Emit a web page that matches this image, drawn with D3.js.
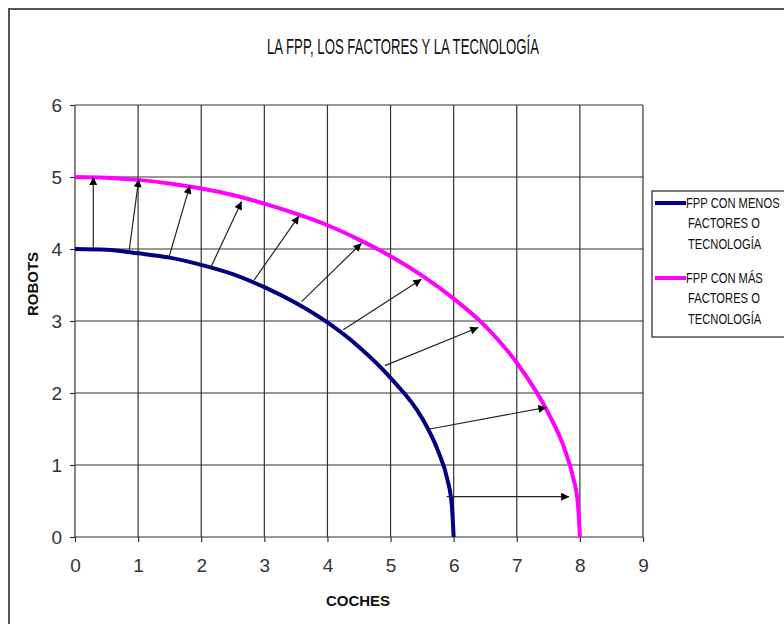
<!DOCTYPE html>
<html>
<head>
<meta charset="utf-8">
<script src="https://cdn.jsdelivr.net/npm/d3@7"></script>
<style>
  body { margin: 0; background: #fff; }
  text { font-family: "Liberation Sans", Arial, sans-serif; }
</style>
</head>
<body>
<div id="chart"></div>
<script>
// values
var xTicks = [0, 1, 2, 3, 4, 5, 6, 7, 8, 9];
var yTicks = [0, 1, 2, 3, 4, 5, 6];

// FPP con menos factores (coches, robots)
var lessX = [0, 0.5, 1, 1.5, 2, 2.5, 3, 3.5, 4, 4.5, 5, 5.5, 5.75, 5.9, 5.97, 6];
var lessY = [4, 3.99, 3.94, 3.88, 3.78, 3.65, 3.47, 3.25, 2.98, 2.64, 2.21, 1.65, 1.2, 0.8, 0.45, 0];

// FPP con más factores
var moreX = [0, 0.5, 1, 1.5, 2, 2.5, 3, 3.5, 4, 4.5, 5, 5.5, 6, 6.5, 7, 7.5, 7.75, 7.9, 7.97, 8];
var moreY = [5, 4.99, 4.96, 4.91, 4.84, 4.75, 4.63, 4.49, 4.33, 4.13, 3.9, 3.63, 3.31, 2.93, 2.42, 1.72, 1.24, 0.8, 0.45, 0];

// arrows from the inner frontier to the outer one
var arrowFromX = [0.29, 0.86, 1.49, 2.16, 2.84, 3.59, 4.25, 4.91, 5.62, 5.89];
var arrowFromY = [4.0, 3.99, 3.89, 3.76, 3.57, 3.27, 2.88, 2.38, 1.50, 0.56];
var arrowToX = [0.29, 1.01, 1.82, 2.64, 3.55, 4.54, 5.49, 6.39, 7.47, 7.83];
var arrowToY = [5.0, 4.97, 4.88, 4.66, 4.46, 4.08, 3.58, 2.91, 1.80, 0.56];

var seriesNames = [["FPP CON MENOS", "FACTORES O", "TECNOLOGÍA"],
                   ["FPP CON MÁS", "FACTORES O", "TECNOLOGÍA"]];
var seriesColors = ["#000080", "#ff00ff"];

var svgWidth = 784;
var svgHeight = 624;

var svg = d3.select("#chart")
  .append("svg")
  .attr("width", svgWidth)
  .attr("height", svgHeight);

// chart frame (runs past the right and bottom edge)
svg.append("rect")
  .attr("x", 9)
  .attr("y", 9)
  .attr("width", 820)
  .attr("height", 660)
  .attr("fill", "#fff")
  .attr("stroke", "#555")
  .attr("stroke-width", 2);

var x = d3.scaleLinear().domain([0, 9]).range([75, 643]);
var y = d3.scaleLinear().domain([0, 6]).range([537, 105]);

// title
svg.append("text")
  .attr("x", 403)
  .attr("y", 54)
  .attr("text-anchor", "middle")
  .attr("font-size", 22)
  .attr("textLength", 272)
  .attr("lengthAdjust", "spacingAndGlyphs")
  .attr("fill", "#111")
  .text("LA FPP, LOS FACTORES Y LA TECNOLOGÍA");

// gridlines
var grid = svg.append("g");
grid.selectAll("line.v")
  .data(xTicks)
  .enter()
  .append("line")
  .attr("class", "v")
  .attr("x1", d => x(d))
  .attr("x2", d => x(d))
  .attr("y1", y(0))
  .attr("y2", y(6))
  .attr("stroke", "#333")
  .attr("stroke-width", 1.2);

grid.selectAll("line.h")
  .data(yTicks)
  .enter()
  .append("line")
  .attr("class", "h")
  .attr("x1", x(0))
  .attr("x2", x(9))
  .attr("y1", d => y(d))
  .attr("y2", d => y(d))
  .attr("stroke", "#333")
  .attr("stroke-width", 1.2);

// axes
var bottomAxis = d3.axisBottom(x).tickValues(xTicks).tickFormat(d3.format("d")).tickSize(5).tickPadding(17);
var leftAxis = d3.axisLeft(y).tickValues(yTicks).tickFormat(d3.format("d")).tickSize(5).tickPadding(8);

var xAxis = svg.append("g")
  .attr("transform", `translate(0, ${y(0)})`)
  .call(bottomAxis);
var yAxis = svg.append("g")
  .attr("transform", `translate(${x(0)}, 0)`)
  .call(leftAxis);

[xAxis, yAxis].forEach(function(ax) {
  ax.select(".domain").remove();
  ax.selectAll(".tick line").attr("stroke", "#333").attr("stroke-width", 1.2);
  ax.selectAll(".tick text")
    .attr("font-size", 19)
    .attr("font-family", "\"Liberation Sans\", Arial, sans-serif")
    .attr("fill", "#333");
});

// axis titles
svg.append("text")
  .attr("x", 358)
  .attr("y", 606)
  .attr("text-anchor", "middle")
  .attr("font-size", 15)
  .attr("font-weight", "bold")
  .attr("fill", "#111")
  .text("COCHES");

svg.append("text")
  .attr("transform", "translate(38, 284) rotate(-90)")
  .attr("text-anchor", "middle")
  .attr("font-size", 15)
  .attr("font-weight", "bold")
  .attr("fill", "#111")
  .text("ROBOTS");

// curves
var line = d3.line()
  .x(d => x(d[0]))
  .y(d => y(d[1]))
  .curve(d3.curveMonotoneX);

var lessData = lessX.map((v, i) => [v, lessY[i]]);
var moreData = moreX.map((v, i) => [v, moreY[i]]);

// arrowhead marker
svg.append("defs").append("marker")
  .attr("id", "head")
  .attr("viewBox", "0 0 10 10")
  .attr("refX", 10)
  .attr("refY", 5)
  .attr("markerWidth", 10)
  .attr("markerHeight", 8)
  .attr("markerUnits", "userSpaceOnUse")
  .attr("orient", "auto")
  .append("path")
  .attr("d", "M0,0 L10,5 L0,10 Z")
  .attr("fill", "#000");

svg.append("path")
  .datum(lessData)
  .attr("d", line)
  .attr("fill", "none")
  .attr("stroke", seriesColors[0])
  .attr("stroke-width", 4);

svg.append("path")
  .datum(moreData)
  .attr("d", line)
  .attr("fill", "none")
  .attr("stroke", seriesColors[1])
  .attr("stroke-width", 4);

// arrows
svg.selectAll("line.arrow")
  .data(arrowFromX)
  .enter()
  .append("line")
  .attr("class", "arrow")
  .attr("x1", (d, i) => x(arrowFromX[i]))
  .attr("y1", (d, i) => y(arrowFromY[i]))
  .attr("x2", (d, i) => x(arrowToX[i]))
  .attr("y2", (d, i) => y(arrowToY[i]))
  .attr("stroke", "#222")
  .attr("stroke-width", 1.2)
  .attr("marker-end", "url(#head)");

// legend
var legend = svg.append("g");
legend.append("rect")
  .attr("x", 652)
  .attr("y", 191)
  .attr("width", 160)
  .attr("height", 146)
  .attr("fill", "#fff")
  .attr("stroke", "#222")
  .attr("stroke-width", 1.2);

var legendTop = [203, 278];
seriesNames.forEach(function(lines, i) {
  legend.append("line")
    .attr("x1", 655)
    .attr("x2", 686)
    .attr("y1", legendTop[i])
    .attr("y2", legendTop[i])
    .attr("stroke", seriesColors[i])
    .attr("stroke-width", 4);
  lines.forEach(function(t, j) {
    var tx = j === 0 ? 686 : 688;
    legend.append("text")
      .attr("x", tx)
      .attr("y", legendTop[i] + 5 + j * 20.5)
      .attr("font-size", 14)
      .attr("fill", "#111")
      .attr("transform", `translate(${tx * 0.2}, 0) scale(0.8, 1)`)
      .text(t);
  });
});
</script>
</body>
</html>
